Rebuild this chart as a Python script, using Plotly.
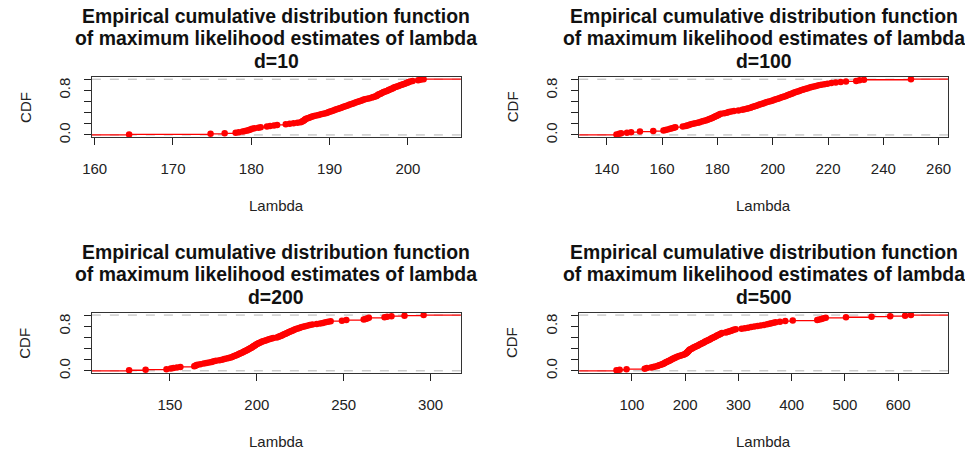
import plotly.graph_objects as go

# ---------------- data (sorted maximum likelihood estimates) ----------------
lam_d10 = [164.4, 174.8, 176.6, 178.0, 178.4, 178.9, 179.2, 179.5, 179.7, 179.9,
           180.1, 180.4, 180.9, 181.2, 182.0, 182.4, 182.9, 183.3, 184.4, 184.9,
           185.4, 185.9, 186.3, 186.5, 186.6, 186.7, 186.8, 186.9, 187.0, 187.2,
           187.4, 187.6, 187.8, 188.0, 188.3, 188.6, 188.9, 189.2, 189.5, 189.7,
           189.9, 190.1, 190.3, 190.5, 190.7, 190.9, 191.1, 191.3, 191.5, 191.7,
           191.9, 192.1, 192.3, 192.5, 192.7, 192.9, 193.1, 193.3, 193.5, 193.7,
           193.9, 194.1, 194.3, 194.5, 194.8, 195.1, 195.4, 195.6, 195.8, 196.0,
           196.1, 196.2, 196.3, 196.5, 196.6, 196.8, 196.9, 197.1, 197.3, 197.5,
           197.6, 197.8, 197.9, 198.1, 198.2, 198.4, 198.6, 198.8, 199.0, 199.2,
           199.4, 199.6, 199.8, 200.0, 200.1, 200.3, 200.6, 201.3, 201.6, 202.0]

lam_d100 = [143.5, 144.5, 145.2, 147.3, 148.8, 152.0, 156.8, 160.5, 161.2, 162.0,
            162.9, 163.6, 164.2, 164.8, 167.5, 168.5, 169.1, 169.7, 170.4, 171.2,
            172.0, 172.9, 173.6, 174.3, 175.0, 175.7, 176.3, 176.9, 177.4, 177.9,
            178.3, 178.8, 179.2, 179.6, 180.0, 180.4, 180.8, 181.3, 182.5, 183.4,
            184.1, 185.0, 186.0, 187.6, 189.0, 189.8, 190.6, 191.3, 192.0, 192.6,
            193.2, 193.8, 194.4, 195.0, 195.6, 196.2, 196.8, 197.4, 198.0, 198.7,
            199.4, 200.0, 200.6, 201.2, 201.8, 202.4, 203.0, 203.6, 204.2, 204.8,
            205.3, 205.8, 206.3, 206.8, 207.3, 207.8, 208.4, 209.0, 209.6, 210.2,
            210.8, 211.4, 212.0, 212.7, 213.4, 214.1, 214.9, 215.7, 216.6, 217.6,
            218.7, 219.8, 221.2, 222.8, 224.6, 226.5, 230.2, 231.4, 233.0, 250.0]

lam_d200 = [126.5, 136.0, 148.0, 150.5, 152.0, 154.0, 156.0, 164.0, 164.6, 165.2,
            165.8, 167.5, 169.5, 171.0, 172.5, 174.0, 175.2, 176.5, 178.5, 180.0,
            181.3, 182.6, 183.8, 184.9, 185.8, 186.6, 187.4, 188.2, 188.9, 189.6,
            190.3, 191.0, 191.7, 192.4, 193.0, 193.6, 194.2, 194.8, 195.4, 196.0,
            196.6, 197.1, 197.6, 198.1, 198.6, 199.1, 199.6, 200.1, 200.7, 201.3,
            202.0, 202.8, 203.6, 204.5, 205.5, 206.5, 207.5, 208.5, 209.5, 211.5,
            212.5, 213.3, 214.0, 214.7, 215.4, 216.1, 216.8, 217.5, 218.2, 218.9,
            219.6, 220.3, 221.0, 221.8, 222.6, 223.5, 224.5, 225.5, 226.6, 227.8,
            229.0, 230.5, 232.0, 234.5, 236.5, 238.0, 239.5, 241.0, 242.5, 249.0,
            251.5, 261.5, 262.5, 263.5, 264.5, 273.5, 275.0, 277.5, 285.0, 296.0]

lam_d500 = [71, 77, 90, 124, 128, 136, 140, 144, 148, 151,
            154, 157, 159, 161, 163, 165, 167, 169, 171, 173,
            175, 177, 179, 181, 183, 186, 189, 192, 195, 198,
            200, 202, 203, 204, 205, 206, 207, 208, 209, 211,
            213, 215, 217, 219, 221, 223, 225, 227, 229, 231,
            233, 235, 237, 239, 241, 243, 245, 247, 249, 251,
            253, 255, 257, 259, 261, 263, 265, 267, 269, 276,
            279, 282, 285, 288, 291, 295, 306, 312, 318, 324,
            330, 336, 342, 348, 354, 358, 362, 366, 370, 378,
            388, 402, 448, 452, 456, 460, 464, 502, 550, 585,
            613, 624]

panel_labels = ["d=10", "d=100", "d=200", "d=500"]
x_ticks = [[160, 170, 180, 190, 200],
           [140, 160, 180, 200, 220, 240, 260],
           [150, 200, 250, 300],
           [100, 200, 300, 400, 500, 600]]
y_ticks = [0, 0.2, 0.4, 0.6, 0.8, 1.0]
y_tick_text = ["0.0", "", "", "", "0.8", ""]
title_lines = ["Empirical cumulative distribution function",
               "of maximum likelihood estimates of lambda"]

series = [lam_d10, lam_d100, lam_d200, lam_d500]

# ---------------- layout geometry (pixels) ----------------
W, H = 965, 458
cols = [(83, 457), (577, 951)]
rows = [(78, 139), (317, 378)]
FONT = "Liberation Sans, Arial, Helvetica, sans-serif"

def px_x(p):
    return p / W

def px_y(p):
    return 1 - p / H

fig = go.Figure()
annotations = []
shapes = []
layout_axes = {}

for k, vals in enumerate(series):
    r, c = divmod(k, 2)
    x0, x1 = cols[c]
    yt, yb = rows[r]
    n = len(vals)
    # R plot.stepfun / plot.ecdf x-limits
    lo, hi = min(vals), max(vals)
    dr = 0.08 * (hi - lo)
    xl = (lo - dr, hi + dr)
    ext = 0.04 * (xl[1] - xl[0])
    xr = [xl[0] - ext, xl[1] + ext]

    # horizontal step segments (no verticals)
    sx, sy = [xr[0] - 50, vals[0], None], [0, 0, None]
    for i in range(n):
        right = vals[i + 1] if i < n - 1 else xr[1] + 50
        sx += [vals[i], right, None]
        sy += [(i + 1) / n, (i + 1) / n, None]
    cdf = [(i + 1) / n for i in range(n)]

    sfx = "" if k == 0 else str(k + 1)
    fig.add_trace(go.Scatter(x=sx, y=sy, mode="lines",
                             line=dict(color="#ff0000", width=1.3),
                             xaxis="x" + sfx, yaxis="y" + sfx,
                             hoverinfo="skip", showlegend=False))
    fig.add_trace(go.Scatter(x=vals, y=cdf, mode="markers",
                             marker=dict(color="#ff0000", size=6.5),
                             xaxis="x" + sfx, yaxis="y" + sfx,
                             showlegend=False))

    layout_axes["xaxis" + sfx] = dict(
        domain=[px_x(x0), px_x(x1)], range=xr, anchor="y" + sfx,
        tickvals=x_ticks[k], ticks="outside", ticklen=7, tickwidth=1,
        tickcolor="#222", showline=True, mirror=True, linecolor="#333",
        linewidth=1.2, showgrid=False, zeroline=False,
        tickfont=dict(family=FONT, size=15, color="#222"),
        ticklabelstandoff=11)
    layout_axes["yaxis" + sfx] = dict(
        domain=[px_y(yb), px_y(yt)], range=[-0.04, 1.04], anchor="x" + sfx,
        tickvals=y_ticks, ticktext=y_tick_text, tickangle=-90,
        ticks="outside", ticklen=7, tickwidth=1, tickcolor="#222",
        showline=True, mirror=True, linecolor="#333", linewidth=1.2,
        showgrid=False, zeroline=False,
        tickfont=dict(family=FONT, size=15, color="#222"),
        ticklabelstandoff=8)

    for yv in (0, 1):
        shapes.append(dict(type="line", xref="x" + sfx + " domain", yref="y" + sfx,
                           x0=0, x1=1, y0=yv, y1=yv, layer="below",
                           line=dict(color="#b3b3b3", width=1, dash="dash")))

    cx = (x0 + x1) / 2
    lines = title_lines + [panel_labels[k]]
    offs = [61.5, 39.0, 16.5]
    for ln, off in zip(lines, offs):
        annotations.append(dict(text="<b>%s</b>" % ln, x=px_x(cx), y=px_y(yt - off),
                                xref="paper", yref="paper", showarrow=False,
                                xanchor="center", yanchor="middle",
                                font=dict(family=FONT, size=19.4, color="#111")))
    annotations.append(dict(text="Lambda", x=px_x(cx), y=px_y(yb + 69),
                            xref="paper", yref="paper", showarrow=False,
                            xanchor="center", yanchor="middle",
                            font=dict(family=FONT, size=15, color="#222")))
    annotations.append(dict(text="CDF", x=px_x(x0 - 68), y=px_y((yt + yb) / 2),
                            xref="paper", yref="paper", showarrow=False,
                            textangle=-90, xanchor="center", yanchor="middle",
                            font=dict(family=FONT, size=15, color="#222")))

fig.update_layout(width=W, height=H, margin=dict(l=0, r=0, t=0, b=0),
                  paper_bgcolor="white", plot_bgcolor="white",
                  annotations=annotations, shapes=shapes, **layout_axes)

fig.write_html("out.html", config={"displayModeBar": False},
               post_script="document.body.style.margin='0';"
                           "document.body.style.overflow='hidden';")
